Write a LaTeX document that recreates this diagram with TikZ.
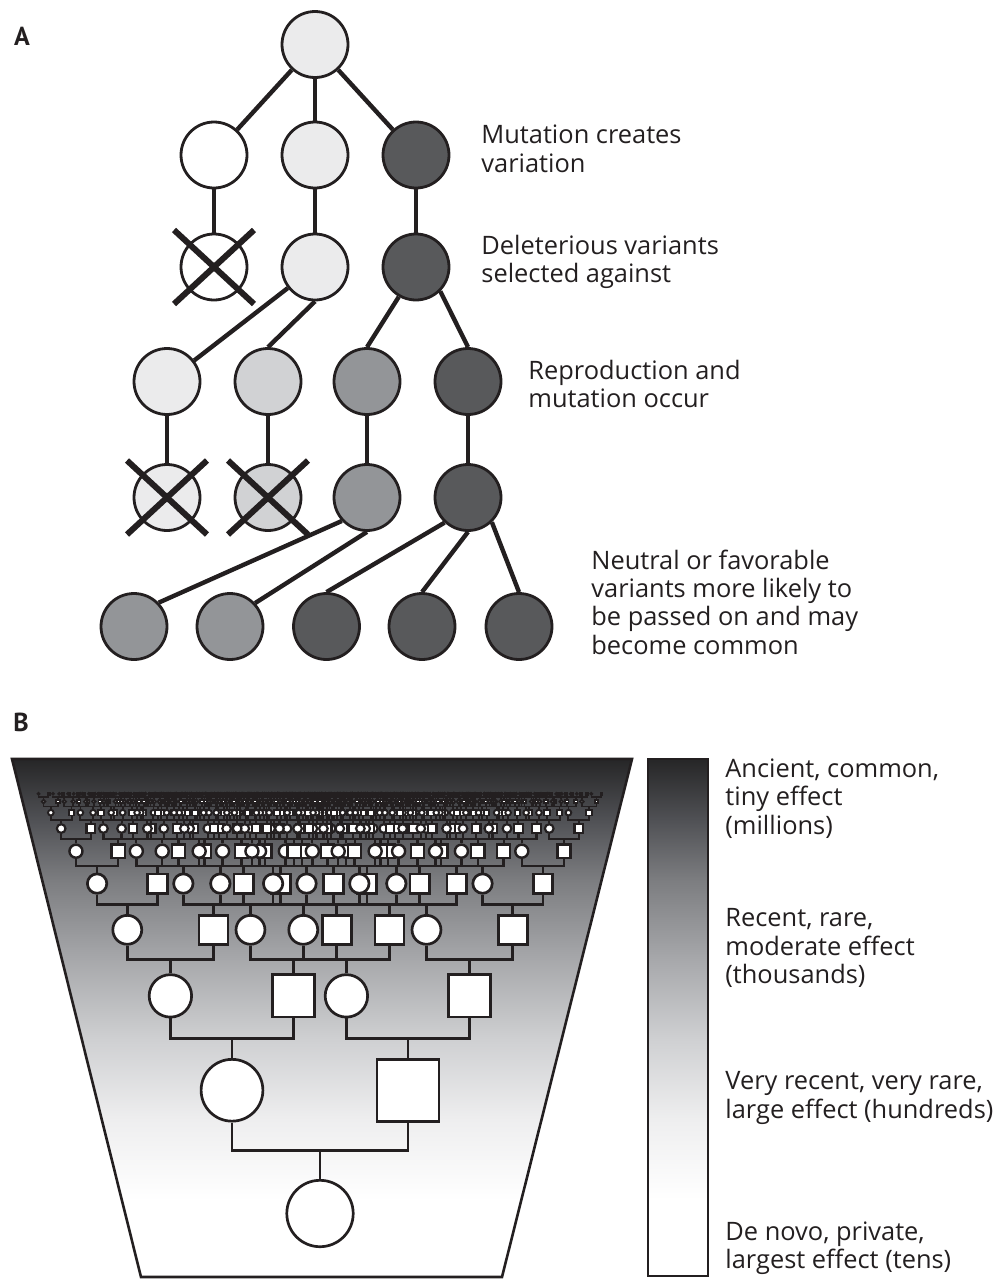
\documentclass[tikz,border=0pt]{standalone}
\usepackage{fontspec}
\setmainfont{Open Sans}
\newfontfamily\panelfont{PT Sans}
\usepackage{tikz}

\definecolor{ink}{HTML}{231F20}
\definecolor{paleA}{HTML}{EBEBEC}
\definecolor{paleB}{HTML}{D1D2D4}
\definecolor{midG}{HTML}{939598}
\definecolor{darkG}{HTML}{58595B}
\definecolor{fadeA}{HTML}{262627}
\definecolor{fadeB}{HTML}{505155}
\definecolor{fadeC}{HTML}{7C7D80}
\definecolor{fadeD}{HTML}{A7A8AB}
\definecolor{fadeE}{HTML}{CFD0D2}
\definecolor{fadeF}{HTML}{EEEEEF}

% the path box is mapped onto 25bp..75bp
\pgfdeclareverticalshading{agefade}{100bp}{color(0bp)=(white); color(25bp)=(white);
  color(32.4bp)=(white); color(40.2bp)=(fadeF); color(47.9bp)=(fadeE);
  color(55.6bp)=(fadeD); color(63.3bp)=(fadeC); color(69.1bp)=(fadeB);
  color(75bp)=(fadeA); color(100bp)=(fadeA)}

% parents of node #1 (at x = #2), generation #3
\newcommand\ancestors[3]{%
  \ifnum#3<10\relax
  \begingroup
    \pgfmathsetmacro\sk{32.25*0.7^(#3-1)}%
    \pgfmathsetmacro\gk{28.25*0.7^(#3-1)}%
    \pgfmathsetmacro\dk{88*0.7^(#3-1)}%
    \pgfmathsetmacro\yk{1090.25-94.375*(1-0.7^(#3-1))/0.3}%
    \pgfmathsetmacro\wk{#3<5 ? 1.35 : 1.35*0.9^(#3-4)}%
    \pgfmathsetmacro\mk{max(\sk-\wk,0.6)}%
    \pgfmathsetmacro\xm{#2-\dk}%
    \pgfmathsetmacro\xf{#2+\dk}%
    \node[female, minimum size=\mk pt, line width=\wk pt] (#10) at (\xm,\yk) {};
    \node[male, minimum size=\mk pt, line width=\wk pt] (#11) at (\xf,\yk) {};
    \draw[kin, line width=\wk pt] (#10.south) -- ++(0,\gk) -| (#11.south);
    \draw[kin, line width=\wk pt] (#1.north) -- ++(0,-\gk);
    \edef\next{\noexpand\ancestors{#10}{\xm}{\the\numexpr#3+1\relax}%
      \noexpand\ancestors{#11}{\xf}{\the\numexpr#3+1\relax}}%
  \expandafter\endgroup\next
  \fi}

\begin{document}
\begin{tikzpicture}[x=0.5pt, y=-0.5pt,
    cell/.style={circle, draw=ink, line width=1.4pt, minimum size=33pt, inner sep=0pt},
    link/.style={draw=ink, line width=2.2pt},
    strike/.style={draw=ink, line width=3pt},
    note/.style={anchor=west, align=left, text=ink, inner sep=0pt,
      font=\fontsize{12.7}{14.2}\selectfont},
    panel/.style={text=ink, inner sep=0pt, font=\panelfont\fontsize{13}{15}\selectfont\bfseries},
    female/.style={circle, draw=ink, fill=white, inner sep=0pt},
    male/.style={rectangle, draw=ink, fill=white, inner sep=0pt},
    kin/.style={draw=ink},
    frame/.style={draw=ink, line width=1.3pt}]
  \useasboundingbox (0,0) rectangle (999,1280);

  % Panel A: lineage of variants
  \node[panel] (la) at (22,36) {A};
  \node[cell, fill=paleA] (n11) at (315,44.5) {};
  \node[cell, fill=white] (n21) at (214,155) {};
  \node[cell, fill=paleA] (n22) at (315,155) {};
  \node[cell, fill=darkG] (n23) at (416,155) {};
  \node[cell, fill=white] (n31) at (214,267) {};
  \node[cell, fill=paleA] (n32) at (315,267) {};
  \node[cell, fill=darkG] (n33) at (416,267) {};
  \node[cell, fill=paleA] (n41) at (167,381.5) {};
  \node[cell, fill=paleB] (n42) at (268,381.5) {};
  \node[cell, fill=midG] (n43) at (367,381.5) {};
  \node[cell, fill=darkG] (n44) at (468,381.5) {};
  \node[cell, fill=paleA] (n51) at (167,497.5) {};
  \node[cell, fill=paleB] (n52) at (268,497.5) {};
  \node[cell, fill=midG] (n53) at (367,497.5) {};
  \node[cell, fill=darkG] (n54) at (468,497.5) {};
  \foreach \x/\c [count=\i] in {134/midG,230/midG,326.5/darkG,422/darkG,519/darkG}
    \node[cell, fill=\c] (n6\i) at (\x,626.5) {};

  % Descent lines
  \draw[link] (n11) -- (n21);
  \draw[link] (n11) -- (n22);
  \draw[link] (n11) -- (n23);
  \foreach \u/\v in {n21/n31,n22/n32,n23/n33,n41/n51,n42/n52,n43/n53,n44/n54}
    \draw[link] (\u) -- (\v);
  \draw[link] (n32) -- (n41);
  \draw[link] (n32.south) -- (n42.north);
  \draw[link] (n33.-120) -- (n43.north);
  \draw[link] (n33.-45) -- (n44.north);
  \draw[link] (n53.-137) -- (n61.44);
  \draw[link] (n53.south) -- (n62.43);
  \draw[link] (n54.-133) -- (n63.north);
  \draw[link] (n54.south) -- (n64.north);
  \draw[link] (n54.-46) -- (n65.north);

  % Removed variants
  \foreach \c in {n31,n51,n52}{
    \draw[strike] ([shift={(-40,-37)}]\c.center) -- ([shift={(40,37)}]\c.center);
    \draw[strike] ([shift={(-40,37)}]\c.center) -- ([shift={(40,-37)}]\c.center);
  }

  \node[note] (t1) at (481,149) {Mutation creates\\variation};
  \node[note] (t2) at (481,262) {Deleterious variants\\selected against};
  \node[note] (t3) at (528,384) {Reproduction and\\mutation occur};
  \node[note] (t4) at (591,602) {Neutral or favorable\\variants more likely to\\be passed on and may\\become common};

  % Panel B: pedigree of ancestors
  \node[panel] (lb) at (21,722) {B};
  \shade[shading=agefade] (12,759) -- (632,759) -- (502,1277) -- (141,1277) -- cycle;
  \shade[shading=agefade] (648,759) rectangle (708,1276);

  \node[female, minimum size=33.2pt, line width=1.35pt] (p) at (320,1213.5) {};
  \ancestors{p}{320}{1}

  \draw[frame] (12,759) -- (632,759) -- (502,1277) -- (141,1277) -- cycle;
  \draw[frame] (648,759) rectangle (708,1276);

  \node[note] (s1) at (725,798.5) {Ancient, common,\\tiny effect\\(millions)};
  \node[note] (s2) at (725,948) {Recent, rare,\\moderate effect\\(thousands)};
  \node[note] (s3) at (725,1098) {Very recent, very rare,\\large effect (hundreds)};
  \node[note] (s4) at (725,1248) {De novo, private,\\largest effect (tens)};
\end{tikzpicture}
\end{document}
